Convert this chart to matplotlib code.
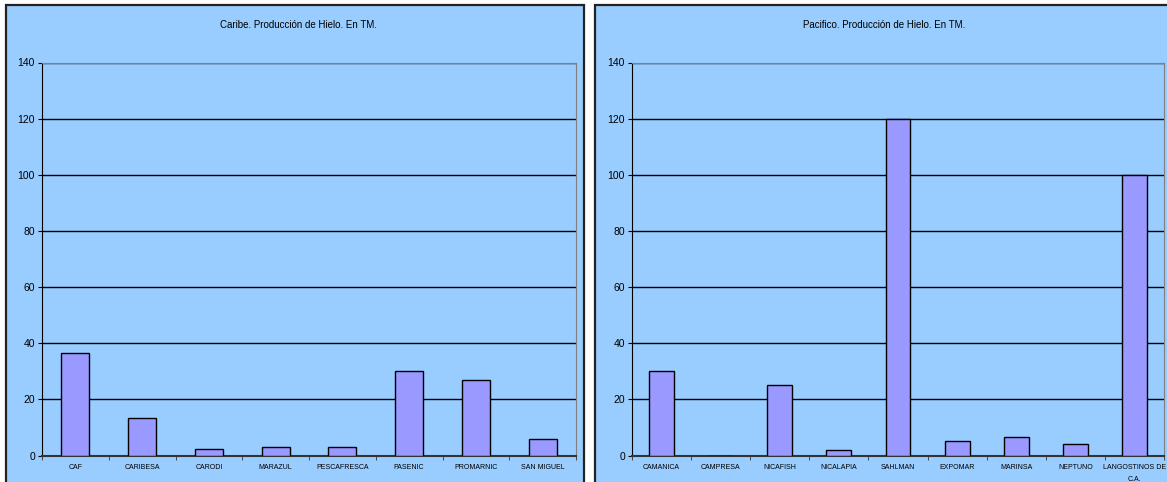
import matplotlib
matplotlib.use("Agg")
import matplotlib.pyplot as plt
from matplotlib.patches import Rectangle
import numpy as np

plt.rcParams['font.family'] = ['Liberation Sans', 'DejaVu Sans']

caribe_cats = ["CAF", "CARIBESA", "CARODI", "MARAZUL", "PESCAFRESCA", "PASENIC", "PROMARNIC", "SAN MIGUEL"]
caribe_vals = [36.5, 13.5, 2.3, 3.0, 3.0, 30.0, 27.0, 6.0]
pacifico_cats = ["CAMANICA", "CAMPRESA", "NICAFISH", "NICALAPIA", "SAHLMAN", "EXPOMAR", "MARINSA", "NEPTUNO", "LANGOSTINOS DE\nC.A."]
pacifico_vals = [30.0, 0.0, 25.0, 2.0, 120.0, 5.0, 6.5, 4.0, 100.0]
yticks = [0, 20, 40, 60, 80, 100, 120, 140]
titles = ["Caribe. Producción de Hielo. En TM.", "Pacifico. Producción de Hielo. En TM."]

W, H = 1167, 482
BG = "#99CCFF"
BAR = "#9999FF"

fig = plt.figure(figsize=(W / 100, H / 100), dpi=100)
fig.patch.set_facecolor("white")

def fx(x):
    return x / W

def fy(y):
    return 1 - y / H

# panel backgrounds with borders
panels = [(6, 5, 584, 490), (595, 5, 1175, 490)]
for (x0, y0, x1, y1) in panels:
    fig.patches.append(Rectangle((fx(x0), fy(y1)), fx(x1) - fx(x0), fy(y0) - fy(y1),
                                 transform=fig.transFigure, facecolor=BG,
                                 edgecolor="#222222", linewidth=1.6, zorder=-10))

axes_px = [(42, 62.5, 576, 455.5), (632, 62.5, 1164, 455.5)]
data = [(caribe_cats, caribe_vals), (pacifico_cats, pacifico_vals)]
title_x = [298, 884]

for i, ((x0, y0, x1, y1), (cats, vals)) in enumerate(zip(axes_px, data)):
    ax = fig.add_axes([fx(x0), fy(y1), fx(x1) - fx(x0), fy(y0) - fy(y1)])
    ax.set_zorder(1)
    ax.set_facecolor(BG)
    n = len(cats)
    x = np.arange(n)
    ax.bar(x, vals, width=0.42, color=BAR, edgecolor="black", linewidth=1.0, zorder=3)
    ax.set_xlim(-0.5, n - 0.5)
    ax.set_ylim(0, 140)
    ax.set_yticks(yticks)
    ax.set_yticklabels([str(v) for v in yticks], fontsize=7.5)
    ax.yaxis.grid(True, color="black", linewidth=1.0, zorder=1)
    ax.set_axisbelow(True)
    ax.set_xticks(x)
    ax.set_xticklabels(cats, fontsize=5.0, linespacing=2.0)
    ax.tick_params(axis='x', length=0, pad=6)
    ax.set_xticks(np.arange(-0.5, n, 1.0), minor=True)
    ax.tick_params(axis='x', which='minor', length=3, direction='out', color="#333333")
    ax.tick_params(axis='y', length=3, direction='out', pad=2)
    ax.spines['top'].set_color("#808080")
    ax.spines['right'].set_color("#808080")
    ax.spines['left'].set_color("black")
    ax.spines['bottom'].set_color("#333333")
    ax.spines['bottom'].set_linewidth(1.5)
    fig.text(fx(title_x[i]), fy(25.5), titles[i], ha='center', va='center', fontsize=7, zorder=5)

fig.savefig("out.png", dpi=100, facecolor="white")
